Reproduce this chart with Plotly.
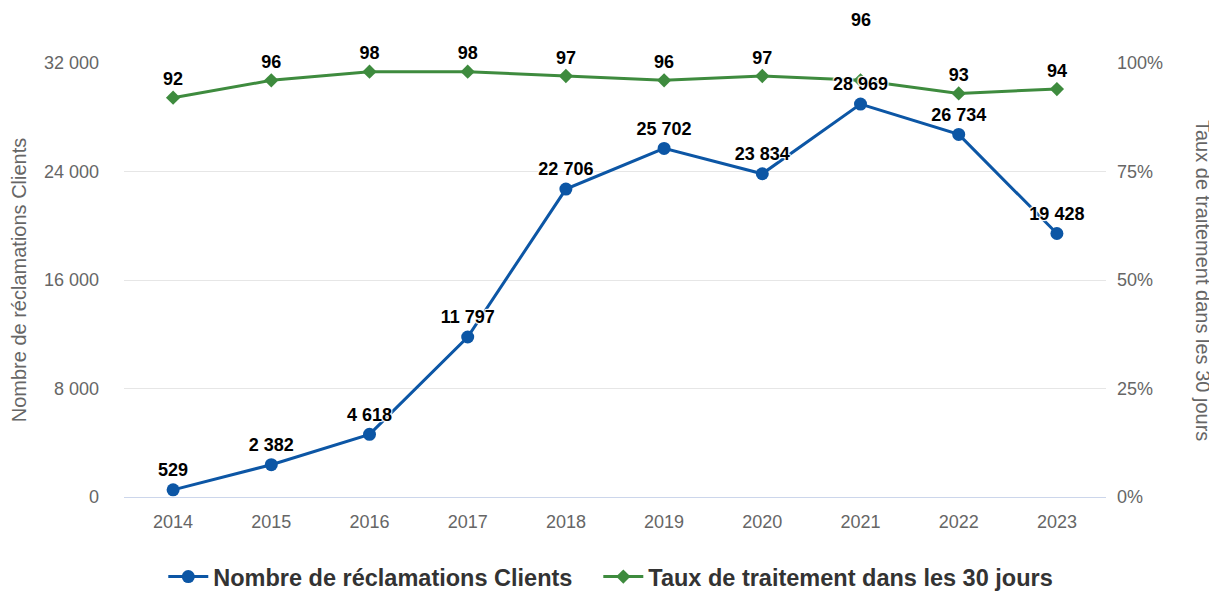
import plotly.graph_objects as go

years = ["2014", "2015", "2016", "2017", "2018", "2019", "2020", "2021", "2022", "2023"]
reclamations = [529, 2382, 4618, 11797, 22706, 25702, 23834, 28969, 26734, 19428]
taux = [92, 96, 98, 98, 97, 96, 97, 96, 93, 94]

left_ticks = [0, 8000, 16000, 24000, 32000]
right_ticks = [0, 25, 50, 75, 100]
right_labels = ["0%", "25%", "50%", "75%", "100%"]

BLUE = "#0C56A5"
GREEN = "#3E8B3E"
FONT = "Arial, Liberation Sans, sans-serif"


def fmt(v):
    return f"{v:,}".replace(",", " ")


blue_text = [fmt(v) for v in reclamations]
# 2021 green label is displaced above the plot (collision avoidance in the original)
i21 = years.index("2021")
green_text = [str(v) if i != i21 else "" for i, v in enumerate(taux)]

legend_font = dict(family=FONT, size=23.5, color="#333333", weight="bold")

fig = go.Figure()
# counts on the overlaying axis (drawn above the percentage series)
fig.add_trace(go.Scatter(
    x=years, y=reclamations, name="Nombre de réclamations Clients",
    mode="lines+markers+text", text=blue_text, textposition="top center",
    textfont=dict(family=FONT, size=18, color="#000000", weight="bold", shadow="auto"),
    line=dict(color=BLUE, width=3), marker=dict(color=BLUE, size=13, symbol="circle"),
    yaxis="y2", cliponaxis=False, legend="legend",
))
fig.add_trace(go.Scatter(
    x=years, y=taux, name="Taux de traitement dans les 30 jours",
    mode="lines+markers+text", text=green_text, textposition="top center",
    textfont=dict(family=FONT, size=18, color="#000000", weight="bold", shadow="auto"),
    line=dict(color=GREEN, width=3), marker=dict(color=GREEN, size=11, symbol="diamond"),
    yaxis="y", cliponaxis=False, legend="legend2",
))

fig.add_annotation(
    x=i21, y=taux[i21], xref="x", yref="y",
    text="<b>" + str(taux[i21]) + "</b>", showarrow=False, yshift=60,
    font=dict(family=FONT, size=18, color="#000000"),
)
fig.add_annotation(
    x=1.0, y=0.5, xref="paper", yref="paper", xshift=97, xanchor="center",
    text="Taux de traitement dans les 30 jours", textangle=90, showarrow=False,
    font=dict(family=FONT, size=20, color="#666666"),
)

fig.update_layout(
    width=1209, height=584,
    margin=dict(l=116, r=111, t=55, b=95, autoexpand=False),
    paper_bgcolor="white", plot_bgcolor="white",
    separators=". ",
    font=dict(family=FONT, color="#666666"),
    showlegend=True,
    legend=dict(orientation="h", x=0.04, xanchor="left",
                yref="container", y=0.026, yanchor="middle",
                font=legend_font, itemwidth=40),
    legend2=dict(orientation="h", x=0.483, xanchor="left",
                 yref="container", y=0.026, yanchor="middle",
                 font=legend_font, itemwidth=40),
    xaxis=dict(
        type="category", range=[-0.5, 9.5], showgrid=False, automargin=False,
        showline=True, linecolor="#ccd6eb", linewidth=1, ticks="",
        tickfont=dict(family=FONT, size=18, color="#666666"), ticklabelstandoff=8,
        zeroline=False,
    ),
    yaxis=dict(
        range=[0, 100], tickvals=right_ticks, ticktext=right_labels,
        side="right", automargin=False,
        showgrid=False, zeroline=False,
        tickfont=dict(family=FONT, size=18, color="#666666"), ticklabelstandoff=10,
    ),
    yaxis2=dict(
        range=[0, 32000], tickvals=left_ticks, tickformat=",d", automargin=False,
        overlaying="y", side="left",
        showgrid=True, gridcolor="#e6e6e6", gridwidth=1, zeroline=False,
        tickfont=dict(family=FONT, size=18, color="#666666"), ticklabelstandoff=24,
        title=dict(text="Nombre de réclamations Clients", standoff=16,
                   font=dict(family=FONT, size=20, color="#666666")),
    ),
)

fig.write_html("out.html")
